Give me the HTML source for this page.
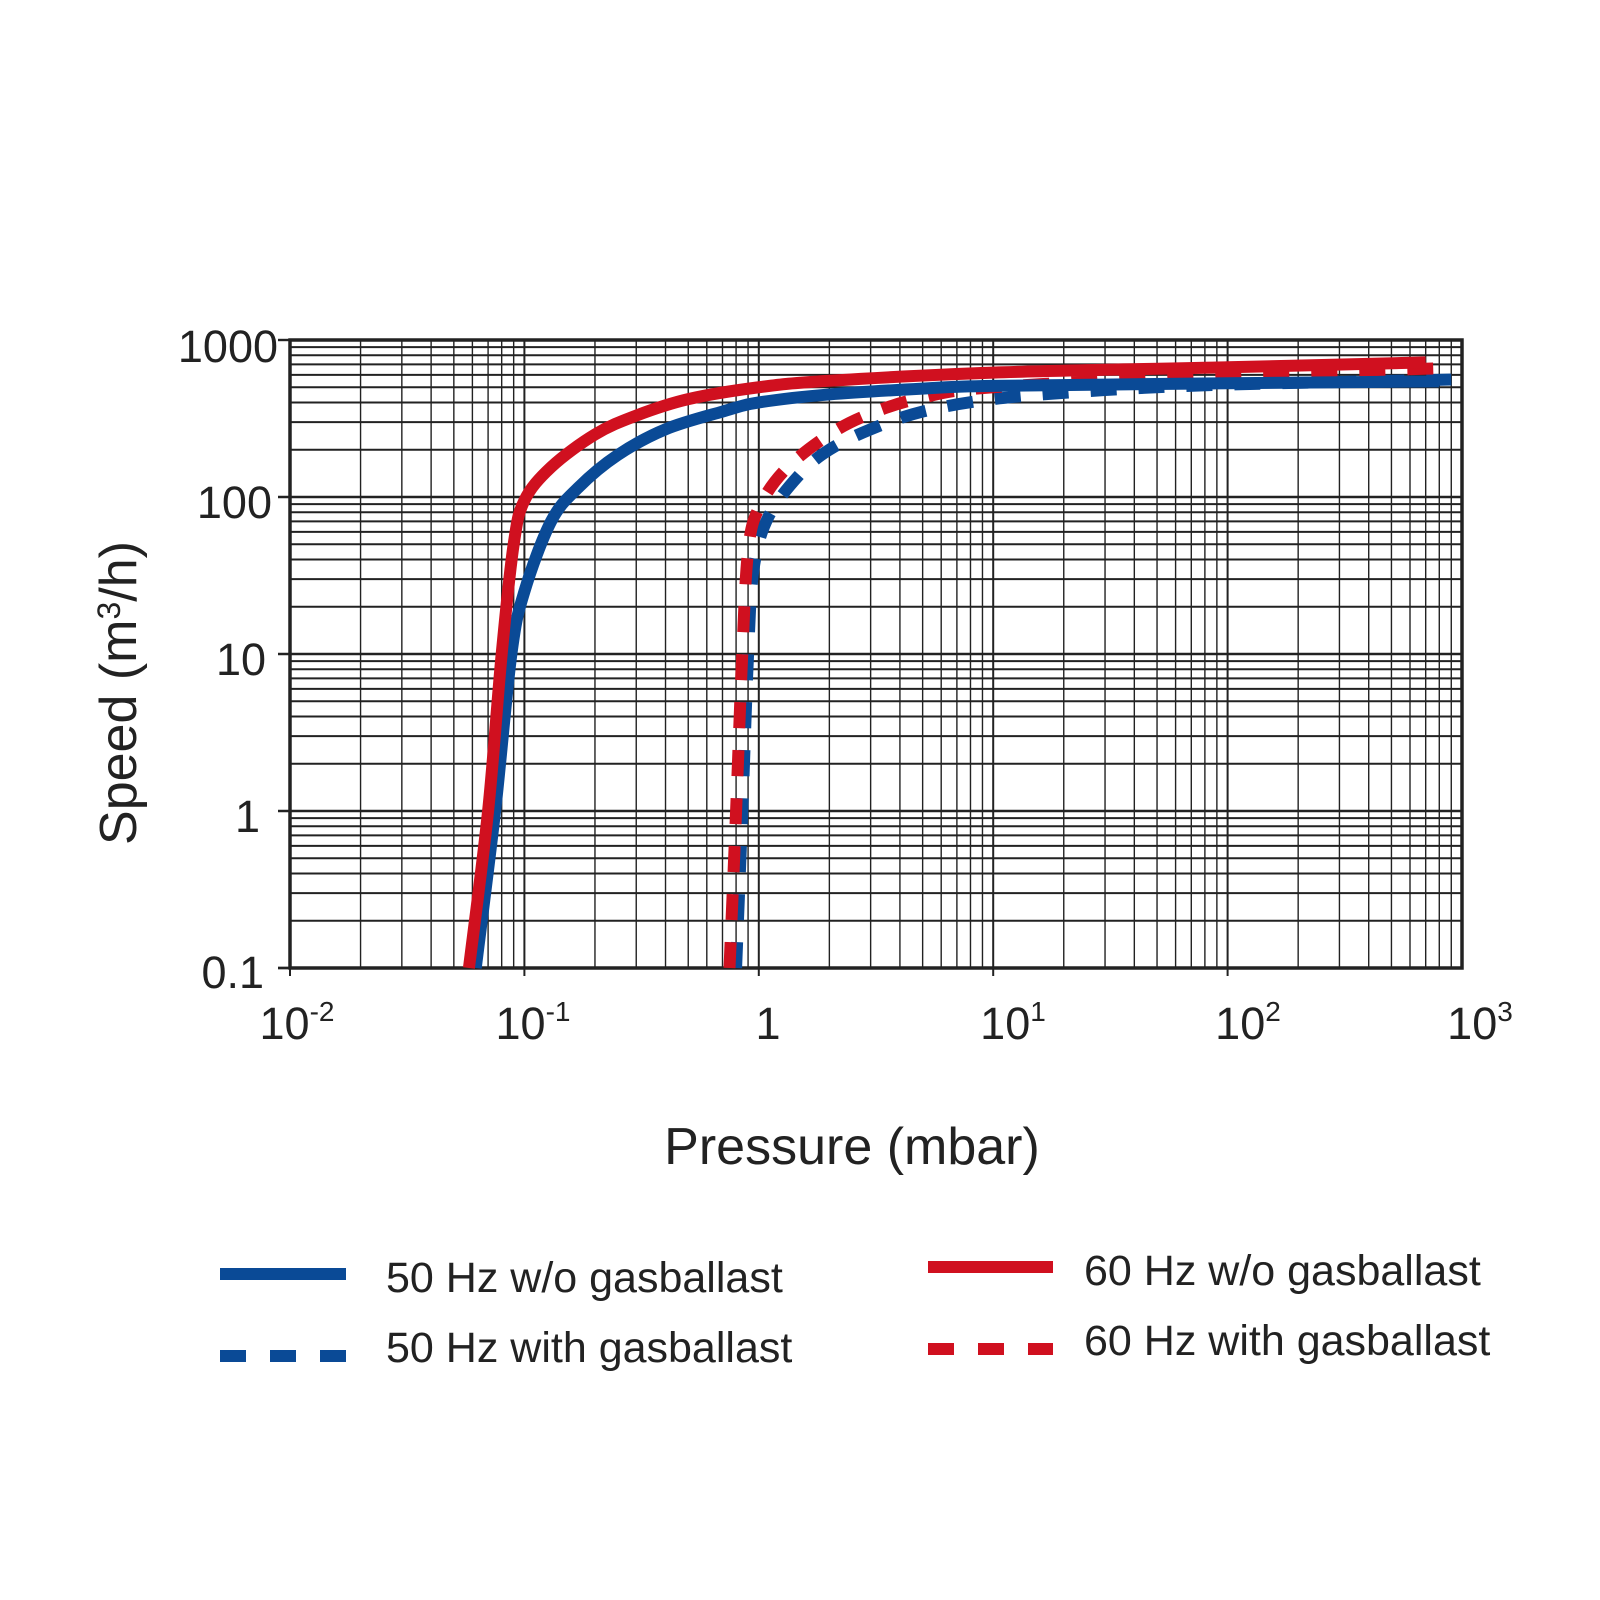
<!DOCTYPE html>
<html><head><meta charset="utf-8"><style>
html,body{margin:0;padding:0;background:#fff;}
svg{display:block;}
text{font-family:"Liberation Sans",sans-serif;fill:#222;}
</style></head><body>
<svg id="s" width="1600" height="1600" viewBox="0 0 1600 1600" xmlns="http://www.w3.org/2000/svg">
<g id="grid" stroke="#222" fill="none"></g>
<rect x="290" y="340" width="1172" height="628" fill="none" stroke="#222" stroke-width="3.5"/>
<g id="curves" fill="none" stroke-linejoin="round"></g>
<g font-size="45" text-anchor="end">
<text x="278" y="362">1000</text>
<text x="272" y="518">100</text>
<text x="266" y="675">10</text>
<text x="260" y="832">1</text>
<text x="264" y="988">0.1</text>
</g>
<g font-size="45" text-anchor="middle">
<text x="297" y="1039">10<tspan font-size="28" dy="-18">-2</tspan></text>
<text x="533" y="1039">10<tspan font-size="28" dy="-18">-1</tspan></text>
<text x="768" y="1039">1</text>
<text x="1013" y="1039">10<tspan font-size="28" dy="-18">1</tspan></text>
<text x="1248" y="1039">10<tspan font-size="28" dy="-18">2</tspan></text>
<text x="1480" y="1039">10<tspan font-size="28" dy="-18">3</tspan></text>
</g>
<text x="852" y="1164" font-size="52" text-anchor="middle">Pressure (mbar)</text>
<text transform="translate(136,693) rotate(-90)" font-size="52" text-anchor="middle">Speed (m<tspan font-size="32" dy="-16">3</tspan><tspan dy="16">/h)</tspan></text>
<line x1="220" y1="1274" x2="346" y2="1274" stroke="#0a4a96" stroke-width="12"/>
<line x1="220" y1="1356" x2="346" y2="1356" stroke="#0a4a96" stroke-width="12" stroke-dasharray="26,24"/>
<line x1="928" y1="1267" x2="1053" y2="1267" stroke="#d0101f" stroke-width="12"/>
<line x1="928" y1="1349" x2="1053" y2="1349" stroke="#d0101f" stroke-width="12" stroke-dasharray="26,24"/>
<g font-size="43">
<text x="386" y="1292">50 Hz w/o gasballast</text>
<text x="386" y="1362">50 Hz with gasballast</text>
<text x="1084" y="1285">60 Hz w/o gasballast</text>
<text x="1084" y="1355">60 Hz with gasballast</text>
</g>
</svg>
<script>
var L=290,R=1462,T=340,B=968,DX=234.4,DY=157;
function X(p){return L+(Math.log10(p)+2)*DX;}
function Y(s){return B-(Math.log10(s)+1)*DY;}
var g=document.getElementById('grid'),h='';
for(var d=-2;d<3;d++)for(var k=1;k<10;k++){var x=X(k*Math.pow(10,d));h+='<line x1="'+x+'" y1="'+T+'" x2="'+x+'" y2="'+(k==1?B+8:B)+'" stroke-width="'+(k==1?2:1.4)+'"/>';}
for(var d=-1;d<3;d++)for(var k=1;k<10;k++){var y=Y(k*Math.pow(10,d));h+='<line x1="'+(k==1?L-12:L)+'" y1="'+y+'" x2="'+R+'" y2="'+y+'" stroke-width="'+(k==1?2.4:2)+'"/>';}
h+='<line x1="'+(L-12)+'" y1="'+T+'" x2="'+L+'" y2="'+T+'" stroke-width="2.4"/><line x1="'+(L-12)+'" y1="'+B+'" x2="'+L+'" y2="'+B+'" stroke-width="2.4"/>';
g.innerHTML=h;
function path(pts){var P=pts.map(function(a){return[X(a[0]),Y(a[1])]});var s='M'+P[0][0]+','+P[0][1];
for(var i=0;i<P.length-1;i++){var p0=P[i-1]||P[i],p1=P[i],p2=P[i+1],p3=P[i+2]||p2;
s+=' C'+(p1[0]+(p2[0]-p0[0])/6)+','+(p1[1]+(p2[1]-p0[1])/6)+' '+(p2[0]-(p3[0]-p1[0])/6)+','+(p2[1]-(p3[1]-p1[1])/6)+' '+p2[0]+','+p2[1];}return s;}
var S=[
{c:'#0a4a96',d:'26,22',p:[[0.8,0.1],[0.85,1],[0.9,10],[0.95,35],[1.1,75],[1.5,140],[2,200],[3,270],[5,350],[10,420],[30,480],[100,520],[900,560]]},
{c:'#d0101f',d:'26,22',p:[[0.75,0.1],[0.8,1],[0.85,10],[0.9,45],[1,85],[1.3,150],[2,250],[3,340],[5,430],[10,500],[100,600],[800,660]]},
{c:'#0a4a96',d:'',p:[[0.062,0.1],[0.075,1],[0.088,10],[0.1,25],[0.13,70],[0.17,115],[0.25,185],[0.4,270],[0.7,350],[1,400],[2,450],[5,490],[10,510],[100,530],[800,545]]},
{c:'#d0101f',d:'',p:[[0.058,0.1],[0.07,1],[0.08,10],[0.09,50],[0.1,95],[0.13,155],[0.2,250],[0.3,330],[0.5,420],[1,500],[2,550],[10,620],[100,670],[700,720]]}];
var o='';S.forEach(function(c){o+='<path d="'+path(c.p)+'" stroke="'+c.c+'" stroke-width="12"'+(c.d?' stroke-dasharray="'+c.d+'"':'')+'/>';});
document.getElementById('curves').innerHTML=o;
</script>
</body></html>
